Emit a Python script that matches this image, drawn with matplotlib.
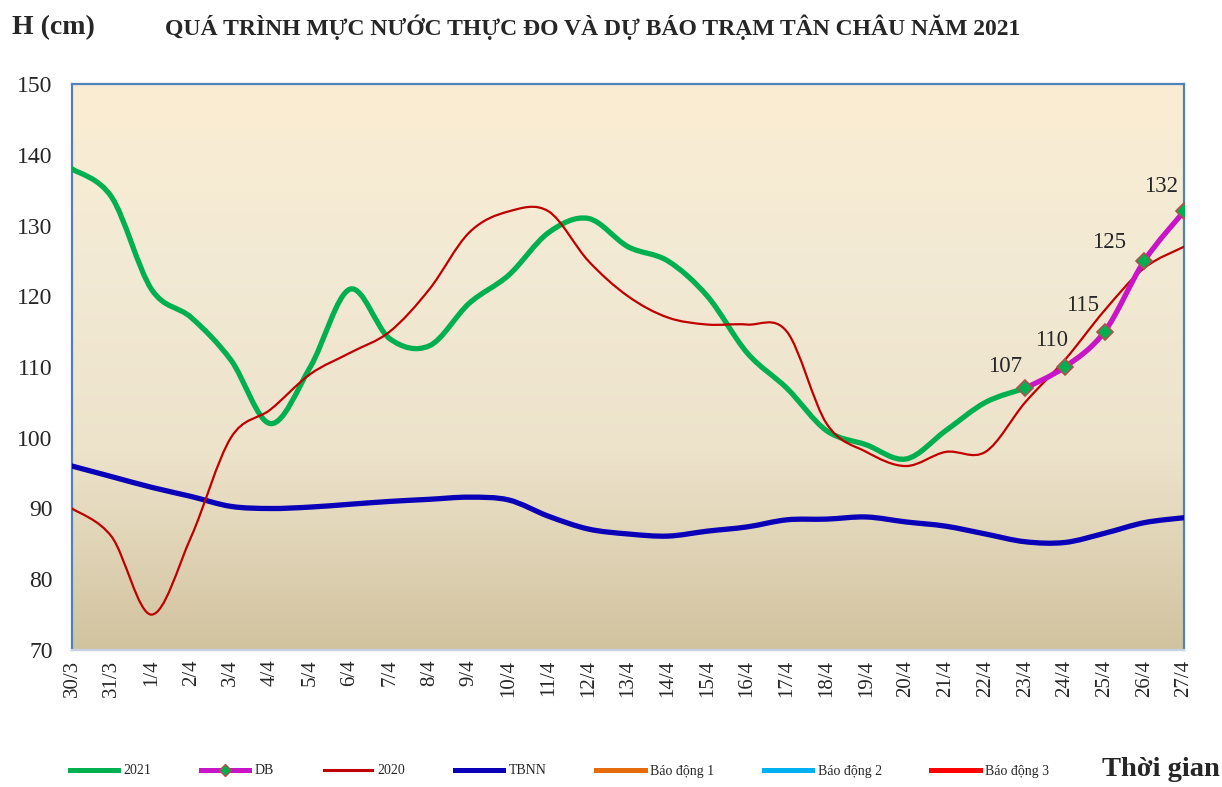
import numpy as np
import matplotlib
matplotlib.use("Agg")
import matplotlib.pyplot as plt
from matplotlib.path import Path
from matplotlib.patches import PathPatch
from matplotlib.lines import Line2D
from matplotlib.colors import LinearSegmentedColormap

# ---------------- data ----------------
dates = ["30/3", "31/3", "1/4", "2/4", "3/4", "4/4", "5/4", "6/4", "7/4", "8/4",
         "9/4", "10/4", "11/4", "12/4", "13/4", "14/4", "15/4", "16/4", "17/4",
         "18/4", "19/4", "20/4", "21/4", "22/4", "23/4", "24/4", "25/4", "26/4", "27/4"]

h2021 = [138, 134, 121, 117, 111, 102, 110, 121, 114, 113, 119, 123, 129, 131,
         127, 125, 120, 112, 107, 101, 99, 97, 101, 105, 107]

db_dates = ["23/4", "24/4", "25/4", "26/4", "27/4"]
db_values = [107, 110, 115, 125, 132]

h2020 = [90, 86, 75, 86, 100, 104, 109, 112, 115, 121, 129, 132, 132, 125, 120,
         117, 116, 116, 115, 102, 98, 96, 98, 98, 105, 111, 118, 124, 127]

tbnn = [96, 94.5, 93, 91.7, 90.3, 90, 90.2, 90.6, 91, 91.3, 91.6, 91.2, 88.9,
        87.1, 86.4, 86.1, 86.8, 87.4, 88.4, 88.5, 88.8, 88.1, 87.5, 86.4, 85.3,
        85.2, 86.5, 88, 88.7]

alarm_labels = ["Báo động 1", "Báo động 2", "Báo động 3"]
alarm_levels = [350, 400, 450]

# ---------------- styles ----------------
C2021 = "#00B050"
CDB = "#C715C7"
C2020 = "#C00000"
CTBNN = "#0A00B8"
CALARM = ["#E46C0A", "#00B0F0", "#FF0000"]
TXT = "#262626"
SERIF = ["Liberation Serif", "DejaVu Serif"]

plt.rcParams["font.family"] = SERIF

fig = plt.figure(figsize=(12.22, 7.87), dpi=100)
L, R, T, B = 72, 1184, 84, 650
W, H = 1222, 787
ax = fig.add_axes([L / W, 1 - B / H, (R - L) / W, (B - T) / H])

ax.set_xlim(0, len(dates) - 1)
ax.set_ylim(70, 150)

# gradient background
cmap = LinearSegmentedColormap.from_list(
    "bg", [(0.0, "#D2C39F"), (0.35, "#EDE3CB"), (0.7, "#F3EAD5"), (1.0, "#FBEDD2")])
grad = np.linspace(0, 1, 256).reshape(-1, 1)
ax.imshow(grad, aspect="auto", cmap=cmap, origin="lower",
          extent=[0, len(dates) - 1, 70, 150], zorder=0)


def smooth_path(xs, ys):
    xs = np.asarray(xs, float)
    ys = np.asarray(ys, float)
    pts = np.column_stack([xs, ys])
    n = len(pts)
    verts = [pts[0]]
    codes = [Path.MOVETO]
    for i in range(n - 1):
        p0 = pts[i - 1] if i > 0 else pts[i]
        p1 = pts[i]
        p2 = pts[i + 1]
        p3 = pts[i + 2] if i + 2 < n else pts[i + 1]
        c1 = p1 + (p2 - p0) / 6.0
        c2 = p2 - (p3 - p1) / 6.0
        verts += [c1, c2, p2]
        codes += [Path.CURVE4] * 3
    return Path(verts, codes)


def draw_smooth(xs, ys, color, lw, z):
    patch = PathPatch(smooth_path(xs, ys), fill=False, edgecolor=color, lw=lw,
                      capstyle="round", joinstyle="round", zorder=z)
    ax.add_patch(patch)


x_all = np.arange(len(dates))
x2021 = x_all[:len(h2021)]
xdb = [dates.index(d) for d in db_dates]

draw_smooth(x_all, tbnn, CTBNN, 3.8, 3)
draw_smooth(x_all, h2020, C2020, 1.6, 5)
draw_smooth(x2021, h2021, C2021, 3.8, 4)
draw_smooth(xdb, db_values, CDB, 3.8, 6)
ax.plot(xdb, db_values, ls="none", marker="D", ms=8, mfc=C2021, mec="#B0504D",
        mew=1.2, zorder=7)

for lvl, c in zip(alarm_levels, CALARM):
    ax.axhline(lvl, color=c, lw=3)

# data labels
offsets = [(-20, 22), (-13, 27), (-22, 26), (-35, 18), (-23, 25)]
for xv, yv, (dx, dy) in zip(xdb, db_values, offsets):
    ax.annotate(f"{yv}", (xv, yv), xytext=(dx * 0.72, dy * 0.72),
                textcoords="offset points", ha="center", va="center",
                fontsize=16.5, color=TXT, zorder=8)

# axes styling
ax.set_yticks(np.arange(70, 151, 10))
ax.set_xticks(x_all)
ax.set_xticklabels(dates, rotation=90, fontsize=15, color=TXT)
ax.tick_params(axis="y", length=0, pad=14, labelsize=17, labelcolor=TXT)
ax.tick_params(axis="x", length=0, pad=7)
for s in ["left", "top", "right"]:
    ax.spines[s].set_color("#4F81BD")
    ax.spines[s].set_linewidth(1.6)
ax.spines["bottom"].set_color("#C5D0E0")
ax.spines["bottom"].set_linewidth(1.6)

# titles
fig.text(12 / W, 1 - 28 / H, "H (cm)", fontsize=20, fontweight="bold",
         color=TXT, va="center", ha="left")
fig.text(593 / W, 1 - 27 / H,
         "QUÁ TRÌNH MỰC NƯỚC THỰC ĐO VÀ DỰ BÁO TRẠM TÂN CHÂU NĂM 2021",
         fontsize=17, fontweight="bold", color=TXT, va="center", ha="center")
fig.text(1220 / W, 1 - 770 / H, "Thời gian", fontsize=20.5, fontweight="bold",
         color=TXT, va="center", ha="right")

# legend
handles = [
    Line2D([], [], color=C2021, lw=3.6),
    Line2D([], [], color=CDB, lw=3.6, marker="D", ms=6, mfc=C2021, mec="#B0504D"),
    Line2D([], [], color=C2020, lw=2.2),
    Line2D([], [], color=CTBNN, lw=3.6),
] + [Line2D([], [], color=c, lw=3.6) for c in CALARM]
labels = ["2021", "DB", "2020", "TBNN"] + alarm_labels
fig.legend(handles, labels, ncol=7, loc="center left",
           bbox_to_anchor=(57 / W, 1 - 771 / H), frameon=False, fontsize=10,
           handlelength=3.5, handletextpad=0.4, columnspacing=3.55,
           labelcolor=TXT)

fig.savefig("out.png", dpi=100)
